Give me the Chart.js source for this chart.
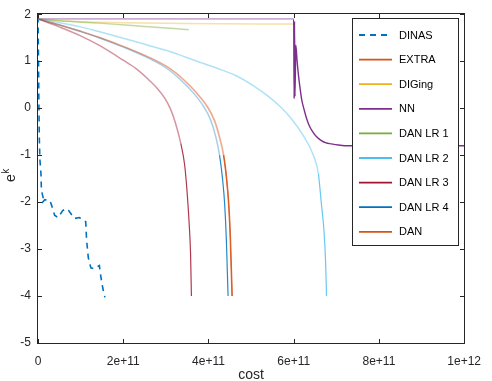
<!DOCTYPE html>
<html>
<head>
<meta charset="utf-8">
<script src="https://cdn.jsdelivr.net/npm/chart.js@4.4.1/dist/chart.umd.min.js"></script>
<style>
  html, body { margin: 0; padding: 0; background: #fff; }
  #chartCanvas { display: block; }
</style>
</head>
<body>
<canvas id="chartCanvas" width="492" height="381"></canvas>
<script>
// ------- data: cost (x) and e^k (y) per method
const dinasCost = [0, 1e9, 2e9, 3e9, 4.5e9, 7e9, 8e9, 1.2e10, 0.9e10, 1.6e10, 2.8e10, 3.2e10, 3.9e10, 4.7e10, 5.8e10, 6.6e10, 7.2e10, 8.5e10, 9.7e10, 1.12e11, 1.14e11, 1.18e11, 1.24e11, 1.31e11, 1.44e11, 1.47e11, 1.52e11, 1.57e11];
const dinasErr  = [1.95, 1.2, 0.2, -0.6, -1.1, -1.4, -1.75, -1.9, -2.02, -1.95, -1.97, -2.07, -2.28, -2.33, -2.18, -2.14, -2.18, -2.35, -2.33, -2.42, -2.8, -3.18, -3.4, -3.42, -3.35, -3.56, -3.83, -4.03];

const extraCost = [0, 0.51e11, 1.02e11, 1.46e11, 2.04e11, 2.63e11, 3.06e11, 3.42e11, 3.72e11, 3.97e11, 4.13e11, 4.25e11, 4.35e11, 4.42e11, 4.47e11, 4.51e11, 4.55e11];
const extraErr  = [1.9, 1.77, 1.63, 1.5, 1.3, 1.07, 0.86, 0.6, 0.32, 0.03, -0.25, -0.6, -1.0, -1.5, -2.04, -2.8, -4.0];

const digingCost = [0, 0.3e11, 1.0e11, 2.0e11, 3.5e11, 6.0e11];
const digingErr  = [1.9, 1.87, 1.84, 1.82, 1.8, 1.79];

const nnCost = [0, 3e11, 6.0e11, 6.01e11, 6.02e11, 6.03e11, 6.05e11, 6.08e11, 6.11e11, 6.15e11, 6.19e11, 6.25e11, 6.31e11, 6.38e11, 6.46e11, 6.55e11, 6.65e11, 6.76e11, 6.88e11, 7.05e11, 7.19e11, 8e11, 1e12];
const nnErr  = [1.9, 1.9, 1.9, 0.2, 1.85, 0.25, 1.34, 1.0, 0.72, 0.42, 0.17, -0.05, -0.24, -0.4, -0.52, -0.62, -0.69, -0.74, -0.76, -0.785, -0.8, -0.8, -0.8];

const lr1Cost = [0, 0.5e11, 1.43e11, 2.5e11, 3.54e11];
const lr1Err  = [1.9, 1.86, 1.81, 1.74, 1.67];

const lr2Cost = [0, 0.5e11, 1.0e11, 1.43e11, 2.0e11, 2.58e11, 3.04e11, 3.73e11, 4.2e11, 4.65e11, 5.05e11, 5.42e11, 5.7e11, 5.96e11, 6.2e11, 6.46e11, 6.58e11, 6.65e11, 6.71e11, 6.75e11, 6.77e11];
const lr2Err  = [1.9, 1.82, 1.73, 1.63, 1.49, 1.34, 1.22, 1.0, 0.85, 0.69, 0.48, 0.24, 0.02, -0.24, -0.55, -1.0, -1.4, -2.04, -2.6, -3.3, -4.0];

const lr3Cost = [0, 0.5e11, 1.0e11, 1.43e11, 2.0e11, 2.3e11, 2.58e11, 2.8e11, 2.97e11, 3.1e11, 3.22e11, 3.35e11, 3.44e11, 3.5e11, 3.55e11, 3.58e11, 3.6e11];
const lr3Err  = [1.9, 1.73, 1.54, 1.34, 1.02, 0.84, 0.62, 0.42, 0.22, 0.0, -0.3, -0.75, -1.2, -1.8, -2.5, -3.1, -4.0];

const lr4Cost = [0, 0.5e11, 1.0e11, 1.43e11, 2.0e11, 2.58e11, 3.0e11, 3.35e11, 3.65e11, 3.89e11, 4.05e11, 4.17e11, 4.26e11, 4.33e11, 4.38e11, 4.42e11, 4.46e11];
const lr4Err  = [1.9, 1.77, 1.63, 1.5, 1.3, 1.07, 0.86, 0.6, 0.32, 0.03, -0.25, -0.6, -1.0, -1.5, -2.04, -2.8, -4.0];

const danCost = [0, 0.51e11, 1.02e11, 1.46e11, 2.05e11, 2.64e11, 3.07e11, 3.43e11, 3.73e11, 3.98e11, 4.14e11, 4.26e11, 4.36e11, 4.43e11, 4.48e11, 4.52e11, 4.56e11];
const danErr  = [1.9, 1.77, 1.63, 1.5, 1.3, 1.07, 0.86, 0.6, 0.32, 0.03, -0.25, -0.6, -1.0, -1.5, -2.04, -2.8, -4.0];

const xTicks = [0, 2e11, 4e11, 6e11, 8e11, 1e12];
const yTicks = [-5, -4, -3, -2, -1, 0, 1, 2];

// matlab default colour order
const COL = {
  blue: '#0072BD', orange: '#D95319', yellow: '#EDB120', purple: '#7E2F8E',
  green: '#77AC30', cyan: '#4DBEEE', red: '#A2142F'
};
const FONT = "'Liberation Sans', Arial, sans-serif";
const AXIS = '#262626';

function fade(hex, a) {
  const n = parseInt(hex.slice(1), 16);
  return `rgba(${n >> 16},${(n >> 8) & 255},${n & 255},${a})`;
}
function zip(xs, ys) { return xs.map((x, i) => ({ x, y: ys[i] })); }

// pale line, but solid where the curve plunges
function steepSeg(hex, a) {
  const steep = c => Math.abs(c.p1.y - c.p0.y) > 5 * Math.abs(c.p1.x - c.p0.x);
  return {
    borderColor: c => steep(c) ? fade(hex, 0.85) : fade(hex, a),
    borderWidth: c => steep(c) ? 1.2 : 1.5
  };
}

function series(label, xs, ys, hex, a, extra) {
  return Object.assign({
    label, data: zip(xs, ys),
    legendColor: hex,
    borderColor: fade(hex, a),
    borderWidth: 1.5,
    pointRadius: 0,
    cubicInterpolationMode: 'monotone',
    segment: steepSeg(hex, a)
  }, extra || {});
}

const datasets = [
  series('DINAS', dinasCost, dinasErr, COL.blue, 1, {
    borderColor: COL.blue, borderWidth: 1.6, borderDash: [6, 5],
    cubicInterpolationMode: 'default', tension: 0, segment: {}
  }),
  series('EXTRA', extraCost, extraErr, COL.orange, 0.3),
  series('DIGing', digingCost, digingErr, COL.yellow, 0.4, { segment: {} }),
  series('NN', nnCost, nnErr, COL.purple, 0.4, {
    segment: {
      borderColor: c => c.p0.parsed.x >= 6e11 ? COL.purple : fade(COL.purple, 0.4),
      borderWidth: c => c.p0.parsed.x >= 6e11 ? 1.4 : 1.6
    }
  }),
  series('DAN LR 1', lr1Cost, lr1Err, COL.green, 0.45, { segment: {} }),
  series('DAN LR 2', lr2Cost, lr2Err, COL.cyan, 0.45),
  series('DAN LR 3', lr3Cost, lr3Err, COL.red, 0.45),
  series('DAN LR 4', lr4Cost, lr4Err, COL.blue, 0.35),
  series('DAN', danCost, danErr, COL.orange, 0.3)
];
// later series on top, like matlab
datasets.forEach((d, i) => { d.order = datasets.length - i; });

// axes box, inward ticks, titles and legend
const framePlugin = {
  id: 'frame',
  afterDatasetsDraw(chart) {
    const { ctx, chartArea: a, scales } = chart;
    const L = Math.round(a.left) - 0.5, R = Math.round(a.right) + 0.5;
    const T = Math.round(a.top) - 0.5, B = Math.round(a.bottom) + 0.5;
    ctx.save();
    ctx.strokeStyle = AXIS;
    ctx.lineWidth = 1;
    ctx.strokeRect(L, T, R - L, B - T);
    ctx.beginPath();
    xTicks.forEach(v => {
      const px = Math.round(scales.x.getPixelForValue(v)) + 0.5;
      ctx.moveTo(px, B); ctx.lineTo(px, B - 4.5);
      ctx.moveTo(px, T); ctx.lineTo(px, T + 4.5);
    });
    yTicks.forEach(v => {
      const py = Math.round(scales.y.getPixelForValue(v)) + 0.5;
      ctx.moveTo(L, py); ctx.lineTo(L + 4.5, py);
      ctx.moveTo(R, py); ctx.lineTo(R - 4.5, py);
    });
    ctx.stroke();

    // legend
    const lx = 352.5, ly = 18.5, lw = 106, lh = 227;
    ctx.fillStyle = '#fff';
    ctx.fillRect(lx, ly, lw, lh);
    ctx.strokeStyle = AXIS;
    ctx.strokeRect(lx, ly, lw, lh);
    ctx.font = `11px ${FONT}`;
    ctx.textBaseline = 'middle';
    ctx.textAlign = 'left';
    chart.data.datasets.forEach((d, i) => {
      const yy = 35 + i * 24.6;
      ctx.beginPath();
      ctx.strokeStyle = d.legendColor;
      ctx.lineWidth = 1.8;
      ctx.setLineDash(d.borderDash || []);
      ctx.moveTo(359, yy); ctx.lineTo(392, yy);
      ctx.stroke();
      ctx.setLineDash([]);
      ctx.fillStyle = '#000';
      ctx.fillText(d.label, 399, yy + 0.5);
    });

    // axis titles
    ctx.fillStyle = AXIS;
    ctx.font = `14px ${FONT}`;
    ctx.textAlign = 'center';
    ctx.textBaseline = 'alphabetic';
    ctx.fillText('cost', (a.left + a.right) / 2, 379);

    ctx.translate(15, 182);
    ctx.rotate(-Math.PI / 2);
    ctx.textAlign = 'left';
    ctx.font = `14px ${FONT}`;
    ctx.fillText('e', 0, 0);
    const ew = ctx.measureText('e').width;
    ctx.font = `10px ${FONT}`;
    ctx.fillText('k', ew + 0.5, -6);
    ctx.restore();
  }
};

const chart = new Chart(document.getElementById('chartCanvas'), {
  type: 'line',
  data: { datasets },
  options: {
    responsive: false,
    animation: false,
    devicePixelRatio: 1,
    layout: { padding: { left: 0, right: 20, top: 5, bottom: 0 } },
    plugins: { legend: { display: false }, tooltip: { enabled: false } },
    scales: {
      x: {
        type: 'linear', min: 0, max: 1e12,
        afterFit(s) { s.height = 38; },
        afterBuildTicks(s) { s.ticks = xTicks.map(v => ({ value: v })); },
        grid: { display: false, drawTicks: false },
        border: { display: false },
        ticks: {
          padding: 11, color: AXIS, maxRotation: 0,
          font: { family: FONT, size: 12 },
          callback: v => v === 0 ? '0' : Number(v).toExponential(0)
        }
      },
      y: {
        type: 'linear', min: -5, max: 2,
        afterFit(s) { s.width = 38; },
        afterBuildTicks(s) { s.ticks = yTicks.map(v => ({ value: v })); },
        grid: { display: false, drawTicks: false },
        border: { display: false },
        ticks: {
          padding: 7, color: AXIS,
          font: { family: FONT, size: 12 },
          callback: v => String(v)
        }
      }
    }
  },
  plugins: [framePlugin]
});
</script>
</body>
</html>
